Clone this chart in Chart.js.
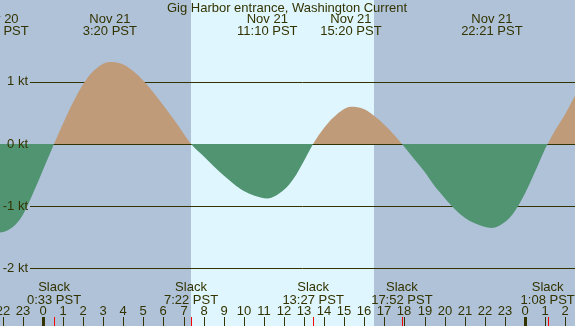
<!DOCTYPE html>
<html>
<head>
<meta charset="utf-8">
<script src="https://cdn.jsdelivr.net/npm/chart.js@4"></script>
<style>
  body { margin: 0; background: #fff; }
  #wrap { width: 575px; height: 326px; position: relative; }
</style>
</head>
<body>
<div id="wrap"><canvas id="myChart"></canvas></div>
<script>
// current in knots (hours since Nov 21 0:00 PST)
const hours = [-2.6, -2.24, -1.5, -1, -0.5, 0, 0.55, 1, 1.5, 2, 2.5, 3.33, 4, 4.5, 5, 5.5, 6, 6.5, 7, 7.37,
  8, 8.5, 9, 9.5, 10, 10.5, 11.17, 12, 12.5, 13, 13.45, 14, 14.5, 15.33, 16, 16.5, 17, 17.5, 17.87,
  18, 18.5, 19, 19.5, 20, 20.5, 21, 21.5, 22.35, 23, 23.5, 24, 24.5, 25, 25.13, 25.5, 26, 26.6];
const knots = [-1.41, -1.43, -1.34, -1.14, -0.8, -0.42, 0, 0.33, 0.67, 0.96, 1.17, 1.32, 1.28, 1.17, 1.02, 0.83, 0.62, 0.4, 0.17, 0,
  -0.2, -0.36, -0.51, -0.645, -0.76, -0.83, -0.878, -0.74, -0.55, -0.27, 0, 0.26, 0.44, 0.6, 0.56, 0.45, 0.31, 0.14, 0,
  -0.05, -0.25, -0.45, -0.68, -0.87, -1.05, -1.19, -1.28, -1.355, -1.26, -1.08, -0.8, -0.45, -0.08, 0, 0.22, 0.48, 0.85];

const yTicks = [1, 0, -1, -2];
const hourTicks = [-2, -1, 0, 1, 2, 3, 4, 5, 6, 7, 8, 9, 10, 11, 12, 13, 14, 15, 16, 17, 18, 19, 20, 21, 22, 23, 24, 25, 26];

const maxHours = [-2.24, 3.33, 11.17, 15.33, 22.35];
const maxDates = ['Nov 20', 'Nov 21', 'Nov 21', 'Nov 21', 'Nov 21'];
const maxTimes = ['21:46 PST', '3:20 PST', '11:10 PST', '15:20 PST', '22:21 PST'];

const slackHours = [0.55, 7.37, 13.45, 17.87, 25.13];
const slackTimes = ['0:33 PST', '7:22 PST', '13:27 PST', '17:52 PST', '1:08 PST'];

const daylight = [7.37, 16.48];

const txt = '#333300';
const font = '13px "Liberation Sans", Arial, sans-serif';

const tidePlugin = {
  id: 'tide',
  beforeDraw(chart) {
    const {ctx, chartArea: a, scales: {x}} = chart;
    ctx.save();
    ctx.fillStyle = '#afc2d8';
    ctx.fillRect(a.left, a.top, a.right - a.left, a.bottom - a.top);
    ctx.fillStyle = '#dff6fe';
    const x0 = Math.round(x.getPixelForValue(daylight[0]));
    const x1 = Math.round(x.getPixelForValue(daylight[1]));
    ctx.fillRect(x0, a.top, x1 - x0, a.bottom - a.top);
    ctx.restore();
  },
  beforeDatasetsDraw(chart) {
    const {ctx, chartArea: a, scales: {y}} = chart;
    ctx.save();
    ctx.strokeStyle = txt;
    ctx.lineWidth = 1;
    yTicks.forEach(v => {
      const py = Math.round(y.getPixelForValue(v)) + 0.5;
      ctx.beginPath();
      ctx.moveTo(30, py);
      ctx.lineTo(a.right, py);
      ctx.stroke();
    });
    ctx.restore();
  },
  afterDraw(chart) {
    const {ctx, chartArea: a, scales: {x, y}} = chart;
    ctx.save();
    ctx.font = font;
    ctx.fillStyle = txt;
    ctx.textBaseline = 'middle';

    // y labels
    ctx.textAlign = 'right';
    yTicks.forEach(v => ctx.fillText(v + ' kt', 28, y.getPixelForValue(v)));

    ctx.textAlign = 'center';
    ctx.fillText('Gig Harbor entrance, Washington Current', 287, 8);

    maxHours.forEach((h, i) => {
      const px = x.getPixelForValue(h);
      ctx.fillText(maxDates[i], px, 19.5);
      ctx.fillText(maxTimes[i], px, 31);
    });

    slackHours.forEach((h, i) => {
      const px = x.getPixelForValue(h);
      ctx.fillText('Slack', px, 287.5);
      ctx.fillText(slackTimes[i], px, 300);
    });

    // hour ticks
    hourTicks.forEach(h => {
      const px = Math.round(x.getPixelForValue(h));
      const hh = ((h % 24) + 24) % 24;
      ctx.fillStyle = txt;
      ctx.fillText(String(hh), px, 311.5);
      if (hh === 0) ctx.fillRect(px - 1, 317, 3, a.bottom - 317);
      else ctx.fillRect(px, 317, 1, a.bottom - 317);
    });
    ctx.fillStyle = '#ff0000';
    slackHours.forEach(h => {
      const px = Math.round(x.getPixelForValue(h));
      ctx.fillRect(px, 317, 1, a.bottom - 317);
    });
    ctx.restore();
  }
};

new Chart(document.getElementById('myChart'), {
  type: 'line',
  data: {
    datasets: [{
      data: hours.map((h, i) => ({x: h, y: knots[i]})),
      borderColor: 'rgba(0,0,0,0)',
      borderWidth: 0,
      pointRadius: 0,
      cubicInterpolationMode: 'monotone',
      fill: {target: 'origin', above: '#bf9b7a', below: '#519472'}
    }]
  },
  options: {
    responsive: true,
    maintainAspectRatio: false,
    animation: false,
    layout: {padding: 0},
    plugins: {legend: {display: false}, tooltip: {enabled: false}},
    scales: {
      x: {type: 'linear', min: -2.14, max: 26.49, display: false},
      y: {min: -2.935, max: 2.32, display: false}
    }
  },
  plugins: [tidePlugin]
});
</script>
</body>
</html>
